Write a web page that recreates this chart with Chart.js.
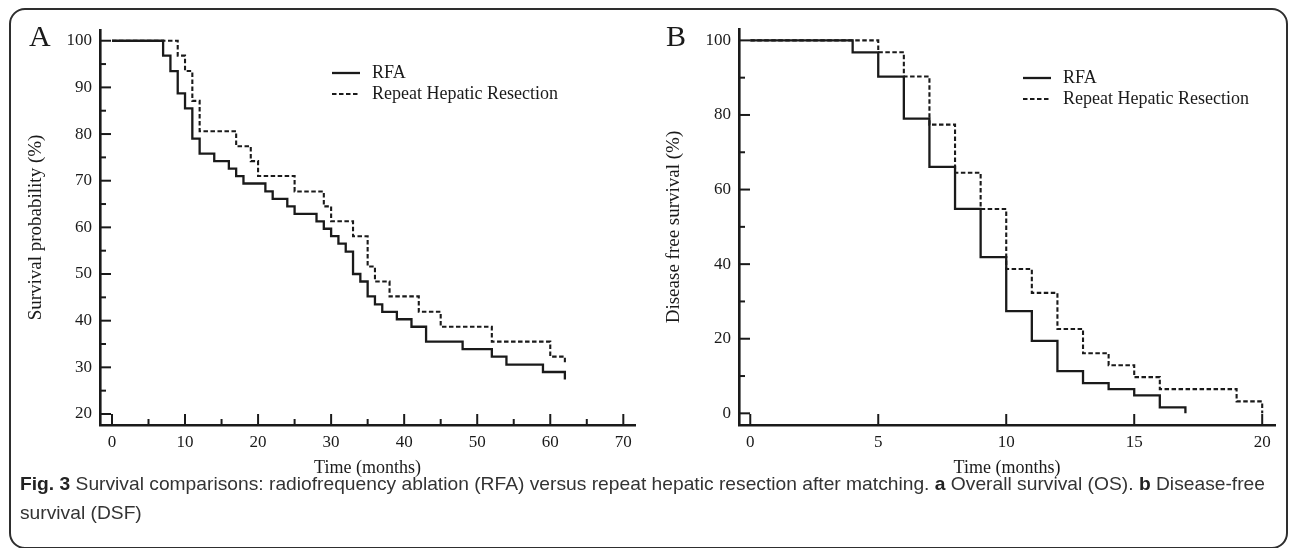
<!DOCTYPE html>
<html lang="en">
<head>
<meta charset="utf-8">
<script src="https://cdn.jsdelivr.net/npm/chart.js@4.4.1/dist/chart.umd.min.js"></script>
<title>Fig. 3 Survival comparisons</title>
<style>
  body { margin: 0; background: #fff; width: 1290px; height: 548px; overflow: hidden; position: relative; }
  .frame { position: absolute; left: 9px; top: 8px; width: 1275px; height: 537px; border: 2px solid #2e2e2e; border-radius: 16px; }
  canvas { position: absolute; top: 0; }
  #chartA { left: 0; }
  #chartB { left: 645px; }
  .caption { position: absolute; left: 20px; top: 469px; font-family: "Liberation Sans Narrow", "Liberation Sans", sans-serif;
    font-size: 19px; line-height: 29px; color: #333; white-space: nowrap; transform-origin: left top; }
  .caption b { color: #222; }
</style>
</head>
<body>
<div class="frame"></div>
<canvas id="chartA" width="645" height="480"></canvas>
<canvas id="chartB" width="645" height="480"></canvas>
<div class="caption" id="caption">
  <span id="capLine1"><b>Fig. 3</b> Survival comparisons: radiofrequency ablation (RFA) versus repeat hepatic resection after matching. <b>a</b> Overall survival (OS). <b>b</b> Disease-free</span><br>
  <span>survival (DSF)</span>
</div>

<script>
  // A: overall survival, months vs %
  var osTimeRFA = [0, 7, 8, 9, 10, 11, 12, 14, 16, 17, 18, 21, 22, 24, 25, 28, 29, 30, 31, 32, 33, 34, 35, 36, 37, 39, 41, 43, 48, 52, 54, 59, 62];
  var osRFA = [100, 96.8, 93.5, 88.7, 85.5, 79.0, 75.8, 74.2, 72.6, 71.0, 69.4, 67.7, 66.1, 64.5, 62.9, 61.3, 59.7, 58.1, 56.5, 54.8, 50.0, 48.4, 45.2, 43.5, 41.9, 40.3, 38.7, 35.5, 33.9, 32.3, 30.6, 29.0, 27.4];
  var osTimeRes = [0, 9, 10, 11, 12, 17, 19, 20, 25, 29, 30, 33, 35, 36, 38, 42, 45, 52, 60, 62];
  var osRes = [100, 96.8, 93.5, 87.1, 80.6, 77.4, 74.2, 71.0, 67.7, 64.5, 61.3, 58.1, 51.6, 48.4, 45.2, 41.9, 38.7, 35.5, 32.3, 30.6];

  // B: disease free survival
  var dfsTimeRFA = [0, 4, 5, 6, 7, 8, 9, 10, 11, 12, 13, 14, 15, 16, 17];
  var dfsRFA = [100, 96.8, 90.3, 79.0, 66.1, 54.8, 41.9, 27.4, 19.4, 11.3, 8.1, 6.5, 4.8, 1.6, 0];
  var dfsTimeRes = [0, 5, 6, 7, 8, 9, 10, 11, 12, 13, 14, 15, 16, 19, 20];
  var dfsRes = [100, 96.8, 90.3, 77.4, 64.5, 54.8, 38.7, 32.3, 22.6, 16.1, 12.9, 9.7, 6.5, 3.2, 0];

  var seriesNames = ['RFA', 'Repeat Hepatic Resection'];

  var serif = '"Liberation Serif", "Times New Roman", serif';
  var ink = '#1a1a1a';

  function pts(xs, ys) {
    return xs.map(function(x, i) { return { x: x, y: ys[i] }; });
  }

  // inward ticks, minor ticks, legend and panel letter
  var decorations = {
    id: 'decorations',
    afterDraw: function(chart) {
      var o = chart.options.plugins.decorations;
      var ctx = chart.ctx;
      var area = chart.chartArea;
      var xs = chart.scales.x, ys = chart.scales.y;
      ctx.save();
      ctx.strokeStyle = ink;
      ctx.lineWidth = 2;

      function tickSet(scale, minor) {
        var vals = scale.ticks.map(function(t) { return t.value; });
        var out = vals.map(function(v) { return { v: v, len: 11 }; });
        if (minor) {
          for (var i = 0; i < vals.length - 1; i++) {
            out.push({ v: (vals[i] + vals[i + 1]) / 2, len: 6 });
          }
        }
        return out;
      }
      tickSet(ys, o.minorY).forEach(function(t) {
        var py = ys.getPixelForValue(t.v);
        ctx.beginPath(); ctx.moveTo(area.left, py); ctx.lineTo(area.left + t.len, py); ctx.stroke();
      });
      tickSet(xs, o.minorX).forEach(function(t) {
        var px = xs.getPixelForValue(t.v);
        ctx.beginPath(); ctx.moveTo(px, area.bottom); ctx.lineTo(px, area.bottom - t.len); ctx.stroke();
      });

      // legend
      ctx.font = '18px ' + serif;
      ctx.fillStyle = ink;
      ctx.textBaseline = 'middle';
      chart.data.datasets.forEach(function(ds, i) {
        var y = o.legendY + i * 21;
        ctx.beginPath();
        ctx.lineWidth = ds.borderWidth;
        ctx.setLineDash(ds.borderDash || []);
        ctx.moveTo(o.legendX, y); ctx.lineTo(o.legendX + 28, y); ctx.stroke();
        ctx.setLineDash([]);
        ctx.fillText(ds.label, o.legendX + 40, y);
      });

      // panel letter
      ctx.font = '30px ' + serif;
      ctx.textAlign = 'left';
      ctx.fillText(o.letter, o.letterX, 38);
      ctx.restore();
    }
  };

  function makeChart(id, opts) {
    var datasets = [
      { label: seriesNames[0], data: opts.rfa, borderColor: ink, borderWidth: 2.3, stepped: 'before', pointRadius: 0, fill: false },
      { label: seriesNames[1], data: opts.res, borderColor: ink, borderWidth: 2.1, borderDash: [4.5, 2.5], stepped: 'before', pointRadius: 0, fill: false }
    ];
    return new Chart(document.getElementById(id), {
      type: 'line',
      data: { datasets: datasets },
      options: {
        responsive: false,
        animation: false,
        layout: { padding: { left: 0, top: opts.top, right: opts.right, bottom: 0 } },
        scales: {
          x: {
            type: 'linear', min: opts.xMin, max: opts.xMax,
            grid: { display: false, drawTicks: false },
            border: { display: true, color: ink, width: 2.6 },
            ticks: { stepSize: opts.xStep, includeBounds: false, padding: 7, color: ink, font: { family: serif, size: 17 } },
            title: { display: true, text: 'Time (months)', color: ink, font: { family: serif, size: 18 }, padding: { top: 0, bottom: 1 } },
            afterFit: function(s) { s.height = 55; }
          },
          y: {
            type: 'linear', min: opts.yMin, max: opts.yMax,
            grid: { display: false, drawTicks: false },
            border: { display: true, color: ink, width: 2.6 },
            ticks: { stepSize: opts.yStep, includeBounds: false, padding: 8, color: ink, font: { family: serif, size: 17 } },
            title: { display: true, text: opts.yTitle, color: ink, font: { family: serif, size: 19 }, padding: { top: opts.yTitlePad, bottom: 0 } },
            afterFit: function(s) { s.width = opts.left; }
          }
        },
        plugins: {
          legend: { display: false },
          tooltip: { enabled: false },
          decorations: opts.deco
        }
      },
      plugins: [decorations]
    });
  }

  makeChart('chartA', {
    rfa: pts(osTimeRFA, osRFA), res: pts(osTimeRes, osRes),
    xMin: -1.64, xMax: 71.6, xStep: 10, yMin: 17.64, yMax: 102.3, yStep: 10,
    top: 30, right: 10, left: 100, yTitlePad: 25,
    yTitle: 'Survival probability (%)',
    deco: { minorX: true, minorY: true, legendX: 332, legendY: 73, letter: 'A', letterX: 29 }
  });

  makeChart('chartB', {
    rfa: pts(dfsTimeRFA, dfsRFA), res: pts(dfsTimeRes, dfsRes),
    xMin: -0.44, xMax: 20.5, xStep: 5, yMin: -3.13, yMax: 103.05, yStep: 20,
    top: 29, right: 15, left: 94, yTitlePad: 18,
    yTitle: 'Disease free survival (%)',
    deco: { minorX: false, minorY: true, legendX: 378, legendY: 78, letter: 'B', letterX: 21 }
  });

  // squeeze the caption so the first line spans the frame like the figure
  var line1 = document.getElementById('capLine1');
  var w = line1.getBoundingClientRect().width;
  document.getElementById('caption').style.transform = 'scaleX(' + (1245 / w) + ')';
</script>
</body>
</html>
